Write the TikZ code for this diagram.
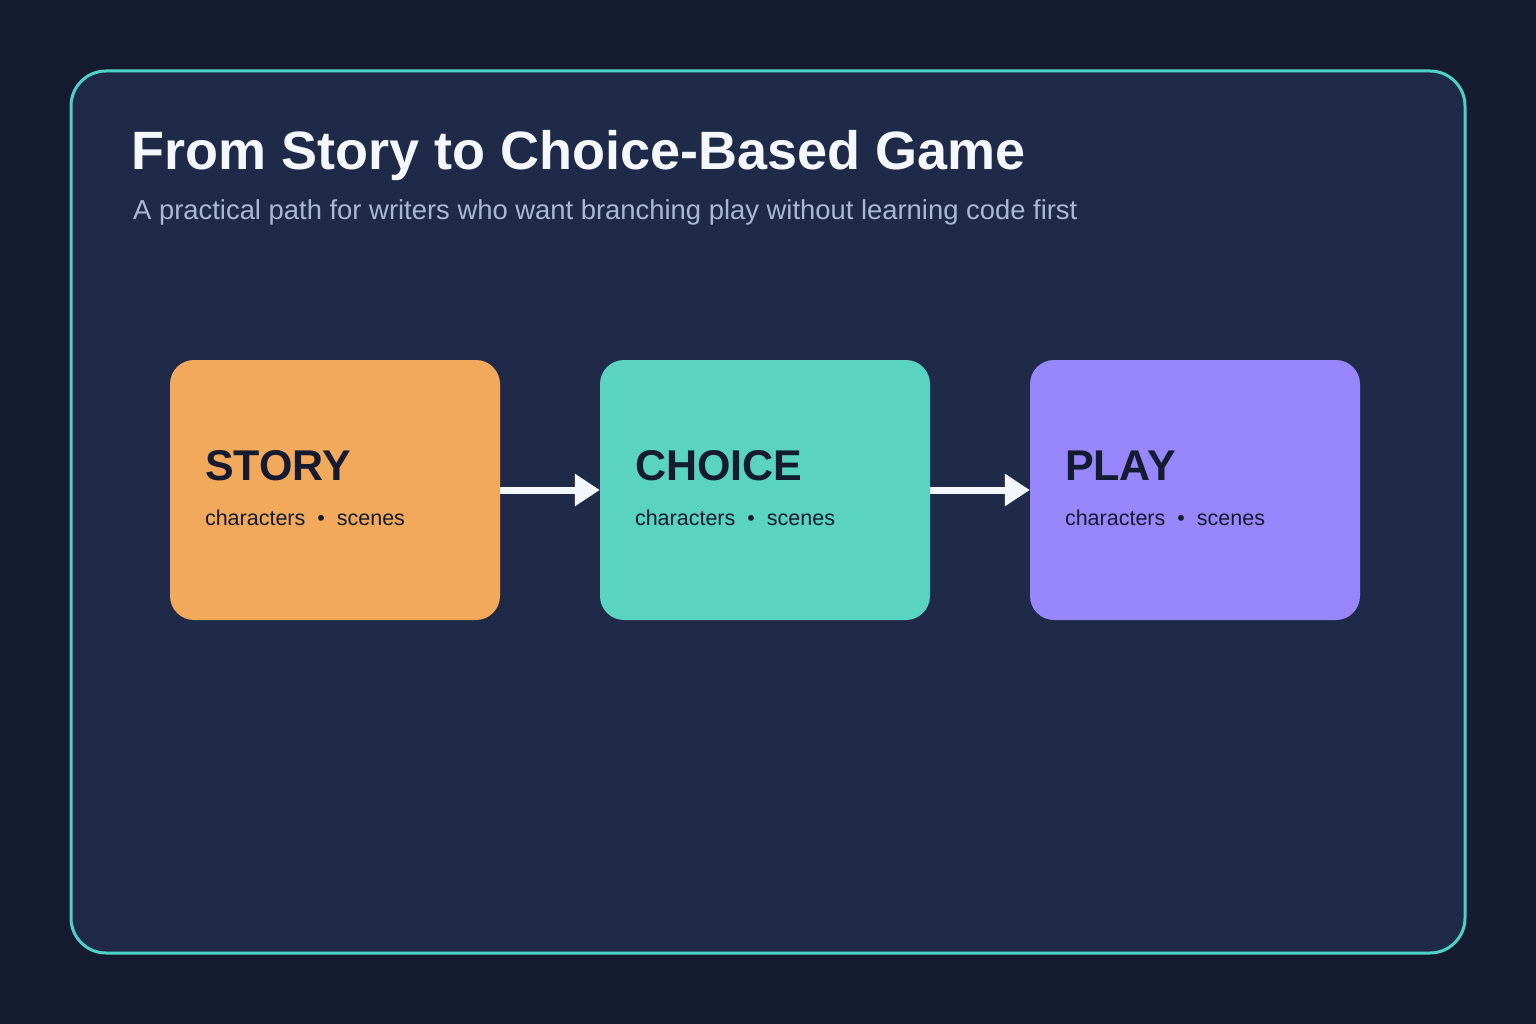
\documentclass[tikz,border=0pt]{standalone}
\usepackage{fontspec}
\setmainfont{Liberation Sans}
\usetikzlibrary{arrows.meta}
\definecolor{bgout}{HTML}{151B30}
\definecolor{panel}{HTML}{1F2A48}
\definecolor{frame}{HTML}{4FD1C5}
\definecolor{titlec}{HTML}{F5F7FF}
\definecolor{subc}{HTML}{AAB8D8}
\definecolor{darktext}{HTML}{151B30}
\definecolor{cstory}{HTML}{F2A95B}
\definecolor{cchoice}{HTML}{5AD3C2}
\definecolor{cplay}{HTML}{9886FD}
\tikzset{
  stage/.style={draw=none, rounded corners=24pt, minimum width=330pt, minimum height=260pt, inner sep=0pt},
  stagetitle/.style={anchor=base west, inner sep=0pt, text=darktext, font=\fontsize{43}{50}\selectfont\bfseries},
  stagesub/.style={anchor=base west, inner sep=0pt, text=darktext, font=\fontsize{21.5}{26}\selectfont},
  flow/.style={draw=titlec, line width=7pt, -{Triangle[length=25pt,width=31pt]}},
}
\begin{document}
\begin{tikzpicture}[x=1pt,y=-1pt]
\fill[bgout] (0,0) rectangle (1536,1024);
\useasboundingbox (0,0) rectangle (1536,1024);
\draw[fill=panel, draw=frame, line width=3pt, rounded corners=35pt] (71,71) rectangle (1465,953);
\node[anchor=base west, inner sep=0pt, text=titlec, font=\fontsize{54}{60}\selectfont\bfseries] (title) at (131,170) {From Story to Choice-Based Game};
\node[anchor=base west, inner sep=0pt, text=subc, font=\fontsize{27.4}{32}\selectfont] (subtitle) at (133,220) {A practical path for writers who want branching play without learning code first};
\node[stage, fill=cstory] (story) at (335,490) {};
\node[stage, fill=cchoice] (choice) at (765,490) {};
\node[stage, fill=cplay] (play) at (1195,490) {};
\foreach \n/\t in {story/STORY, choice/CHOICE, play/PLAY}{
  \node[stagetitle] (\n-t) at ([xshift=35pt,yshift=10pt]\n.west) {\t};
  \node[stagesub] (\n-s) at ([xshift=35pt,yshift=-35pt]\n.west) {characters\hspace{12pt}•\hspace{12pt}scenes};
}
\draw[flow] (story.east) -- (choice.west);
\draw[flow] (choice.east) -- (play.west);
\end{tikzpicture}
\end{document}
